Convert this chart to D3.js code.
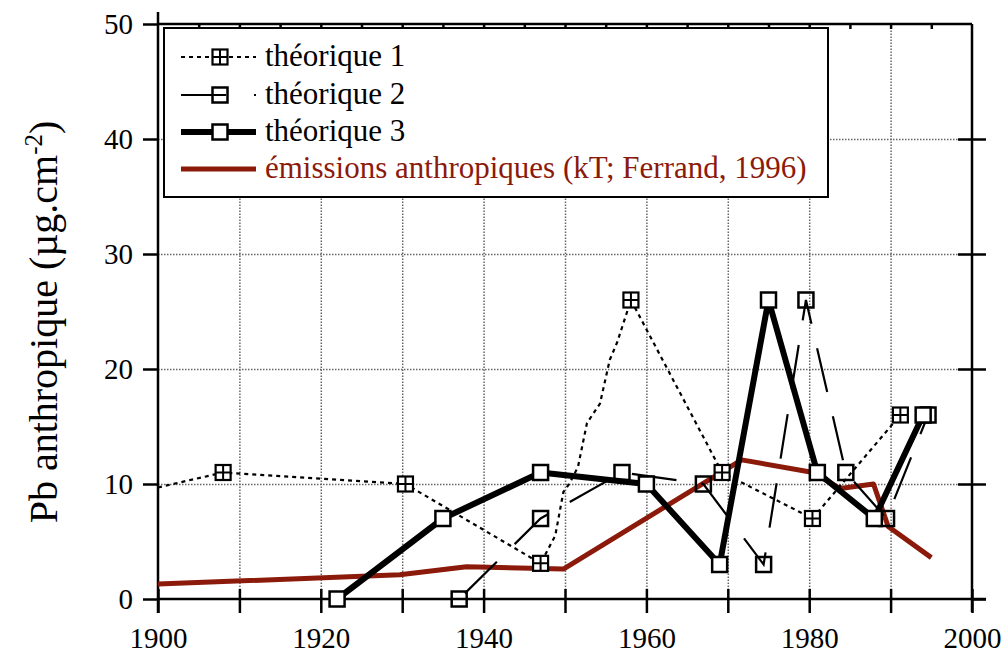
<!DOCTYPE html>
<html>
<head>
<meta charset="utf-8">
<script src="https://cdn.jsdelivr.net/npm/d3@7"></script>
<style>
  body { margin: 0; background: #fff; }
  svg { display: block; font-family: "Liberation Serif", "Times New Roman", serif; }
  .grid line { stroke: #666; stroke-width: 1.5; stroke-dasharray: 1.5,1.5; }
  .grid path { display: none; }
  .axis path, .axis line { stroke: #000; stroke-width: 2.5; }
  .axis text { font-size: 29px; fill: #000; }
</style>
</head>
<body>
<svg width="1007" height="655"></svg>
<script>
// x ticks / y ticks
const xTicks = [1900, 1920, 1940, 1960, 1980, 2000];
const yTicks = [0, 10, 20, 30, 40, 50];

// théorique 1 (dotted, crossed squares only on some points)
const t1Years  = [1900, 1908, 1930.4, 1947, 1948.8, 1949.8, 1950.6, 1951.6, 1952.7, 1954.3, 1955.5, 1956.4, 1958.1, 1969.3, 1980.4, 1991.2];
const t1Values = [9.7, 11, 10, 3.1, 5.5, 9.3, 10.1, 11.5, 15.3, 17, 20.8, 22.3, 26, 11, 7, 16];
const t1Marked = [0, 1, 1, 1, 0, 0, 0, 0, 0, 0, 0, 0, 1, 1, 1, 1];

// théorique 2 (long dashes)
const t2Years  = [1937, 1947, 1957, 1967, 1974.4, 1979.6, 1984.5, 1989.5, 1994.6];
const t2Values = [0, 7, 11, 10, 3, 26, 11, 7, 16];

// théorique 3 (thick)
const t3Years  = [1922, 1935, 1947, 1960, 1969, 1975, 1981, 1988, 1994];
const t3Values = [0, 7, 11, 10, 3, 26, 11, 7, 16];

// émissions anthropiques
const emYears  = [1900, 1929.7, 1937.9, 1949.8, 1971.7, 1980.5, 1983.8, 1987.9, 1989.7, 1995];
const emValues = [1.3, 2.1, 2.8, 2.6, 12.1, 11, 9.6, 10, 6.3, 3.6];

const legendLabels = ["théorique 1", "théorique 2", "théorique 3", "émissions anthropiques (kT; Ferrand, 1996)"];

const red = "#8b1a0b";
const pLeft = 158, pRight = 972, pTop = 24, pBottom = 599;

const svg = d3.select("svg");

const x = d3.scaleLinear().domain([1900, 2000]).range([pLeft, pRight]);
const y = d3.scaleLinear().domain([0, 50]).range([pBottom, pTop]);

// grid
svg.append("g")
    .attr("class", "grid")
    .attr("transform", "translate(0," + pBottom + ")")
    .call(d3.axisBottom(x).tickValues(d3.range(1910, 2000, 10)).tickSize(-(pBottom - pTop)).tickFormat(""));
svg.append("g")
    .attr("class", "grid")
    .attr("transform", "translate(" + pLeft + ",0)")
    .call(d3.axisLeft(y).tickValues([10, 20, 30, 40]).tickSize(-(pRight - pLeft)).tickFormat(""));

// axes
const yAxis = svg.append("g")
    .attr("class", "axis")
    .attr("transform", "translate(" + pLeft + ",0)")
    .call(d3.axisLeft(y).tickValues(yTicks).tickSize(15).tickSizeOuter(0).tickPadding(10));
yAxis.select("path").attr("d", "M0," + (pTop - 12) + "V" + (pBottom + 14));

const xAxis = svg.append("g")
    .attr("class", "axis")
    .attr("transform", "translate(0," + pBottom + ")")
    .call(d3.axisBottom(x).tickValues(d3.range(1900, 2001, 10)).tickSize(14).tickSizeOuter(0).tickPadding(14)
        .tickFormat(d => xTicks.includes(d) ? d : ""));
xAxis.select("path").attr("d", "M" + pLeft + ",0H" + (pRight + 14));

// inner part of bottom ticks
svg.append("g")
    .attr("class", "axis")
    .attr("transform", "translate(0," + pBottom + ")")
    .call(d3.axisTop(x).tickValues(d3.range(1900, 2001, 10)).tickSize(10).tickSizeOuter(0).tickFormat(""))
    .select("path").remove();

// top axis with small ticks every 5 years
const topAxis = svg.append("g")
    .attr("class", "axis")
    .attr("transform", "translate(0," + pTop + ")")
    .call(d3.axisBottom(x).tickValues(d3.range(1905, 2000, 5)).tickSize(5).tickSizeOuter(0).tickFormat(""));
topAxis.selectAll("line").attr("stroke-width", 1.5);
topAxis.select("path").attr("d", "M" + pLeft + ",0H" + pRight);

// right axis, ticks cross the line
const rAxis = svg.append("g")
    .attr("class", "axis")
    .attr("transform", "translate(" + pRight + ",0)")
    .call(d3.axisRight(y).tickValues(yTicks.slice(0, 5)).tickSize(14).tickSizeOuter(0).tickFormat(""));
rAxis.select("path").attr("d", "M0," + pTop + "V" + (pBottom + 13));
svg.append("g")
    .attr("class", "axis")
    .attr("transform", "translate(" + pRight + ",0)")
    .call(d3.axisLeft(y).tickValues(yTicks.slice(1, 5)).tickSize(14).tickFormat(""))
    .select("path").remove();

svg.selectAll(".axis .tick text").attr("font-family", "Liberation Serif");

// y label
svg.append("text")
    .attr("transform", "translate(57,322) rotate(-90)")
    .attr("text-anchor", "middle")
    .attr("font-size", 40)
    .attr("fill", "#000")
    .html('Pb anthropique (µg.cm<tspan dy="-15" font-size="25">-2</tspan><tspan dy="15">)</tspan>');

// series
const line = d3.line().x(d => x(d[0])).y(d => y(d[1]));
const zip = (a, b) => a.map((v, i) => [v, b[i]]);

const em = zip(emYears, emValues);
const t1 = zip(t1Years, t1Values);
const t2 = zip(t2Years, t2Values);
const t3 = zip(t3Years, t3Values);

svg.append("path").datum(em).attr("d", line)
    .attr("fill", "none").attr("stroke", red).attr("stroke-width", 5).attr("stroke-linejoin", "round");
svg.append("path").datum(t1).attr("d", line)
    .attr("fill", "none").attr("stroke", "#000").attr("stroke-width", 2.2).attr("stroke-dasharray", "4,4");
svg.append("path").datum(t2).attr("d", line)
    .attr("fill", "none").attr("stroke", "#000").attr("stroke-width", 2.2).attr("stroke-dasharray", "45,25")
    .attr("stroke-dashoffset", -8);
svg.append("path").datum(t3).attr("d", line)
    .attr("fill", "none").attr("stroke", "#000").attr("stroke-width", 6).attr("stroke-linejoin", "round");

// marker helpers
const ms = 15;
function crossSquare(g, cx, cy) {
    g.append("rect").attr("x", cx - ms / 2).attr("y", cy - ms / 2).attr("width", ms).attr("height", ms)
        .attr("fill", "#fff").attr("stroke", "#000").attr("stroke-width", 2.2);
    g.append("path").attr("d", `M${cx - ms / 2},${cy}H${cx + ms / 2}M${cx},${cy - ms / 2}V${cy + ms / 2}`)
        .attr("stroke", "#000").attr("stroke-width", 2);
}
function square(g, cx, cy, fill) {
    g.append("rect").attr("x", cx - ms / 2).attr("y", cy - ms / 2).attr("width", ms).attr("height", ms)
        .attr("fill", fill).attr("stroke", "#000").attr("stroke-width", 2.5);
}

const marks = svg.append("g");
t1.forEach((d, i) => { if (t1Marked[i]) crossSquare(marks, x(d[0]), y(d[1])); });
t2.forEach(d => square(marks, x(d[0]), y(d[1]), "none"));
t3.forEach(d => square(marks, x(d[0]), y(d[1]), "#fff"));

// legend
const lg = svg.append("g");
lg.append("rect").attr("x", 164).attr("y", 28).attr("width", 664).attr("height", 169)
    .attr("fill", "#fff").attr("stroke", "#000").attr("stroke-width", 2);

const rowY = [57, 95, 132, 169];
const lx0 = 181, lx1 = 256, mx = 220;
lg.append("line").attr("x1", lx0).attr("x2", lx1).attr("y1", rowY[0]).attr("y2", rowY[0])
    .attr("stroke", "#000").attr("stroke-width", 2.2).attr("stroke-dasharray", "4,4");
crossSquare(lg, mx, rowY[0]);
lg.append("line").attr("x1", lx0).attr("x2", lx1).attr("y1", rowY[1]).attr("y2", rowY[1])
    .attr("stroke", "#000").attr("stroke-width", 2.2).attr("stroke-dasharray", "45,28");
square(lg, mx, rowY[1], "none");
lg.append("line").attr("x1", lx0).attr("x2", lx1).attr("y1", rowY[2]).attr("y2", rowY[2])
    .attr("stroke", "#000").attr("stroke-width", 6);
square(lg, mx, rowY[2], "#fff");
lg.append("line").attr("x1", lx0).attr("x2", lx1).attr("y1", rowY[3]).attr("y2", rowY[3])
    .attr("stroke", red).attr("stroke-width", 5);

lg.selectAll("text.lab")
    .data(legendLabels)
    .enter()
    .append("text")
    .attr("class", "lab")
    .attr("x", 265)
    .attr("y", (d, i) => rowY[i] + 9)
    .attr("font-size", 31)
    .attr("fill", (d, i) => i === 3 ? red : "#000")
    .text(d => d);
</script>
</body>
</html>
